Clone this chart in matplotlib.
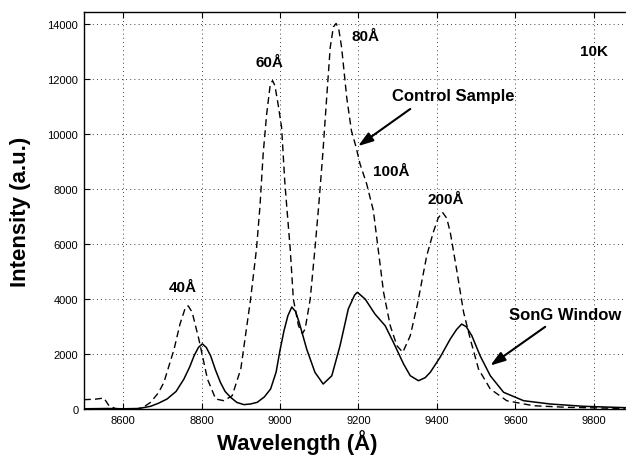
import numpy as np
import matplotlib.pyplot as plt

# control sample spectrum (dashed)
ctrl_wl = [8500, 8530, 8551, 8564, 8580, 8600, 8630, 8650, 8670, 8690, 8704, 8730,
           8745, 8759, 8766, 8776, 8793, 8815, 8836, 8857, 8878, 8900, 8925, 8940,
           8949, 8957, 8966, 8975, 8981, 8987, 8995, 9004, 9012, 9017, 9026, 9034,
           9047, 9057, 9064, 9077, 9089, 9099, 9109, 9119, 9128, 9136, 9143, 9150,
           9157, 9170, 9182, 9194, 9204, 9221, 9238, 9247, 9264, 9281, 9298, 9313,
           9332, 9350, 9374, 9391, 9403, 9414, 9425, 9434, 9450, 9468, 9485, 9506,
           9536, 9578, 9646, 9731, 9880]
ctrl_int = [350, 370, 410, 130, 30, 10, 5, 60, 255, 600, 980, 2190,
            3100, 3710, 3760, 3530, 2556, 1100, 375, 313, 495, 1466, 4010, 5830,
            7400, 9280, 10740, 11800, 11950, 11770, 11100, 10255, 8313, 7400, 5830, 4010,
            3040, 2750, 2920, 4010, 5830, 7465, 9280, 11345, 13160, 13900, 14030, 13800,
            13160, 11345, 10130, 9527, 8920, 8190, 7220, 6190, 4255, 3040, 2313, 2073,
            2676, 3800, 5585, 6450, 6950, 7165, 6950, 6436, 5100, 3527, 2556, 1466,
            740, 313, 130, 73, 30]

# SonG window spectrum (solid)
song_wl = [8500, 8560, 8600, 8640, 8670, 8690, 8712, 8735, 8755, 8770, 8781, 8792,
           8802, 8812, 8823, 8835, 8848, 8860, 8874, 8890, 8908, 8925, 8942, 8960,
           8976, 8990, 9000, 9010, 9020, 9030, 9040, 9050, 9068, 9089, 9110, 9132, 9153,
           9174, 9190, 9197, 9217, 9242, 9268, 9289, 9315, 9332, 9353, 9370, 9383,
           9408, 9434, 9450, 9463, 9475, 9489, 9510, 9536, 9570, 9621, 9689, 9774,
           9880]
song_int = [20, 30, 20, 30, 110, 220, 375, 650, 1100, 1550, 1950, 2250,
            2380, 2250, 1950, 1450, 980, 650, 436, 250, 170, 195, 255, 450,
            740, 1350, 2150, 2850, 3400, 3720, 3550, 3100, 2190, 1345, 920, 1220, 2313,
            3647, 4150, 4255, 4010, 3465, 3040, 2436, 1647, 1222, 1040, 1150, 1345,
            1890, 2556, 2900, 3100, 3000, 2676, 1950, 1222, 618, 313, 193, 110,
            60]

peak_labels = ["40Å", "60Å", "80Å", "100Å", "200Å"]
peak_pos = [(8752, 4450), (8974, 12630), (9217, 13575), (9283, 8670), (9423, 7650)]

plt.rcParams['font.family'] = ['Liberation Sans', 'DejaVu Sans']

fig = plt.figure(figsize=(6.26, 4.6), dpi=100)
ax = fig.add_axes([0.134, 0.108, 0.866, 0.864])

ax.plot(ctrl_wl, ctrl_int, color='k', lw=1.0, linestyle=(0, (5, 3)))
ax.plot(song_wl, song_int, color='k', lw=1.1)

ax.set_xlim(8500, 9882)
ax.set_ylim(0, 14450)
ax.set_xticks(np.arange(8600, 9801, 200))
ax.set_yticks(np.arange(0, 14001, 2000))
ax.tick_params(direction='in', top=True, right=False, labelsize=8, length=4, pad=4)
ax.grid(True, color='k', linestyle=(0, (1, 4)), lw=0.6)
ax.spines['right'].set_visible(False)
for s in ['left', 'top', 'bottom']:
    ax.spines[s].set_linewidth(1.0)

ax.set_xlabel("Wavelength (Å)", fontsize=16, fontweight='bold', x=0.393, labelpad=3)
ax.set_ylabel("Intensity (a.u.)", fontsize=16, fontweight='bold', labelpad=12)

for lab, (px, py) in zip(peak_labels, peak_pos):
    ax.text(px, py, lab, ha='center', va='center', fontsize=11, fontweight='bold')
ax.text(9800, 13030, "10K", ha='center', va='center', fontsize=11, fontweight='bold')

ax.text(9441, 11400, "Control Sample", ha='center', va='center', fontsize=12, fontweight='bold')
ax.annotate('', xy=(9199, 9570), xytext=(9332, 10920),
            arrowprops=dict(arrowstyle='-|>,head_width=0.3,head_length=0.9',
                            lw=1.5, color='k', shrinkA=0, shrinkB=0))
ax.text(9727, 3465, "SonG Window", ha='center', va='center', fontsize=12, fontweight='bold')
ax.annotate('', xy=(9536, 1590), xytext=(9676, 3000),
            arrowprops=dict(arrowstyle='-|>,head_width=0.3,head_length=0.9',
                            lw=1.5, color='k', shrinkA=0, shrinkB=0))

fig.savefig("out.png", dpi=100)
